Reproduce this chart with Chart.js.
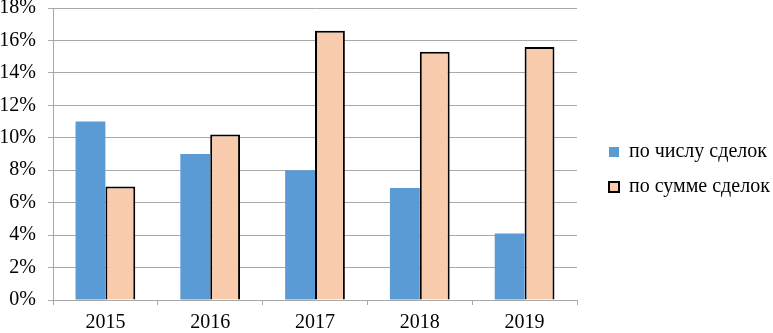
<!DOCTYPE html>
<html>
<head>
<meta charset="utf-8">
<script src="https://cdn.jsdelivr.net/npm/chart.js@4/dist/chart.umd.min.js"></script>
<style>
  html, body { margin: 0; padding: 0; background: #fff; }
  #wrap { width: 773px; height: 333px; }
</style>
</head>
<body>
<div id="wrap"><canvas id="chart"></canvas></div>
<script>
const years = ['2015', '2016', '2017', '2018', '2019'];
const byCount = [11, 9, 8, 6.9, 4.1];
const bySum = [7, 10.2, 16.6, 15.3, 15.6];
const yTicks = [0, 2, 4, 6, 8, 10, 12, 14, 16, 18];

const gridColor = '#a8a8a8';
const serif = '"Liberation Serif", "Times New Roman", serif';
Chart.defaults.font.family = serif;
Chart.defaults.color = '#000';
const font = { family: serif, size: 20 };

// legend takes a fixed strip on the right, items pushed a bit inward
const LEGEND_WIDTH = 196;
const LEGEND_SHIFT_X = 17;
const LEGEND_SHIFT_Y = 3;
const legendStrip = {
  id: 'legendStrip',
  beforeLayout(chart) {
    const lg = chart.legend;
    if (!lg || lg._patched) return;
    const origFit = lg.fit.bind(lg);
    lg.fit = function () {
      origFit();
      this.width = LEGEND_WIDTH;
    };
    lg._patched = true;
  },
  afterLayout(chart) {
    const lg = chart.legend;
    if (!lg) return;
    lg.left += LEGEND_SHIFT_X;
    lg.right += LEGEND_SHIFT_X;
    lg.top += LEGEND_SHIFT_Y;
    lg.bottom += LEGEND_SHIFT_Y;
  }
};

new Chart(document.getElementById('chart'), {
  type: 'bar',
  data: {
    labels: years,
    datasets: [
      {
        label: 'по числу сделок',
        data: byCount,
        backgroundColor: '#5b9bd5',
        borderWidth: 0,
        barPercentage: 1,
        categoryPercentage: 0.57
      },
      {
        label: 'по сумме сделок',
        data: bySum,
        backgroundColor: '#f8cbad',
        borderColor: '#000',
        borderWidth: 2,
        borderSkipped: 'bottom',
        barPercentage: 1,
        categoryPercentage: 0.57
      }
    ]
  },
  options: {
    responsive: true,
    maintainAspectRatio: false,
    animation: false,
    layout: { padding: 0 },
    plugins: {
      tooltip: { enabled: false },
      legend: {
        position: 'right',
        labels: {
          font: { family: serif, size: 20 },
          color: '#000',
          boxWidth: 10,
          boxHeight: 10,
          padding: 15
        }
      }
    },
    scales: {
      x: {
        afterFit: (axis) => {
          axis.height = 33;
        },
        grid: {
          offset: true,
          drawOnChartArea: false,
          drawTicks: true,
          tickLength: 5,
          color: gridColor
        },
        border: { color: gridColor },
        ticks: { font: font, color: '#000', padding: 6 }
      },
      y: {
        min: 0,
        max: 18,
        afterBuildTicks: (axis) => {
          axis.ticks = yTicks.map(v => ({ value: v }));
        },
        afterFit: (axis) => {
          axis.width = 53;
          axis.paddingTop = 8;
        },
        grid: { color: gridColor, tickLength: 5 },
        border: { color: gridColor },
        ticks: {
          font: font,
          color: '#000',
          padding: 12,
          callback: (v) => v + '%'
        }
      }
    }
  },
  plugins: [legendStrip]
});
</script>
</body>
</html>
